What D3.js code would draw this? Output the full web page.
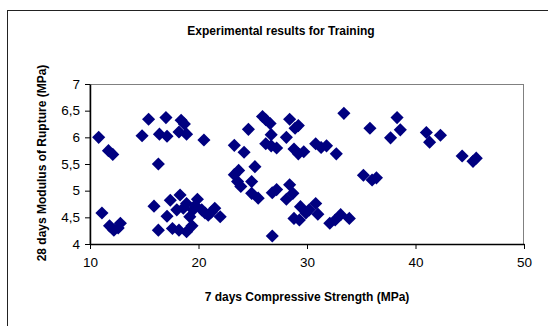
<!DOCTYPE html>
<html>
<head>
<meta charset="utf-8">
<script src="https://cdn.jsdelivr.net/npm/d3@7"></script>
<style>
  body { margin: 0; background: #fff; }
  svg { display: block; }
</style>
</head>
<body>
<div id="chart"></div>
<script>
// 7 days compressive strength (MPa)
const strength7 = [
  10.8, 11.7, 12.1, 14.8, 15.4, 17.0, 16.4, 17.1, 18.4, 18.7, 18.2, 18.9, 20.5, 16.3,
  11.1, 11.8, 12.2, 12.8, 12.6,
  15.9, 16.3, 17.4, 18.3, 17.1, 17.6, 18.2, 18.9, 19.4, 18.0, 18.6, 18.9, 19.9, 19.5,
  20.3, 20.9, 21.5, 22.0, 19.2, 19.7, 20.6, 21.2,
  24.6, 25.9, 26.2, 26.6, 26.7, 26.2, 26.7, 27.2, 28.1, 28.4, 28.9, 29.2, 28.8, 29.2,
  29.7, 30.8, 31.3, 31.8, 32.7, 33.4, 35.8, 23.3, 24.2,
  23.3, 23.7, 23.6, 23.9, 25.2, 24.9, 24.9, 25.5, 26.8, 27.2, 28.4, 28.7, 28.1, 26.8,
  28.8, 29.4, 29.3, 29.9, 30.2, 30.8, 31.0, 32.1, 32.6, 33.1, 33.9, 35.2, 36.0, 36.4,
  38.3, 38.6, 37.7, 41.0, 41.3, 42.3, 44.3, 45.3, 45.6
];
// 28 days modulus of rupture (MPa)
const rupture28 = [
  6.00, 5.75, 5.68, 6.03, 6.34, 6.37, 6.06, 6.02, 6.32, 6.25, 6.10, 6.06, 5.95, 5.50,
  4.58, 4.34, 4.26, 4.39, 4.30,
  4.71, 4.26, 4.82, 4.92, 4.52, 4.29, 4.26, 4.23, 4.34, 4.64, 4.67, 4.76, 4.84, 4.64,
  4.64, 4.54, 4.67, 4.51, 4.51, 4.72, 4.58, 4.60,
  6.15, 6.39, 6.33, 6.26, 6.05, 5.88, 5.84, 5.80, 6.00, 6.34, 6.17, 6.22, 5.78, 5.69,
  5.73, 5.88, 5.81, 5.84, 5.69, 6.45, 6.17, 5.85, 5.72,
  5.30, 5.38, 5.17, 5.08, 5.45, 5.17, 4.95, 4.86, 4.96, 5.02, 5.11, 4.95, 4.84, 4.15,
  4.48, 4.70, 4.45, 4.58, 4.64, 4.76, 4.56, 4.39, 4.45, 4.55, 4.48, 5.29, 5.20, 5.24,
  6.37, 6.14, 5.99, 6.09, 5.91, 6.04, 5.65, 5.55, 5.61
];
const xTicks = [10, 20, 30, 40, 50];
const yTicks = [4, 4.5, 5, 5.5, 6, 6.5, 7];

const width = 548, height = 326;
const plot = { left: 90, right: 524, top: 84, bottom: 244 };
const navy = "#000080";
const font = "Liberation Sans, Arial, sans-serif";

const svg = d3.select("#chart").append("svg")
  .attr("width", width)
  .attr("height", height);

// outer chart frame
svg.append("rect")
  .attr("x", 7.5).attr("y", 10.5)
  .attr("width", width + 10).attr("height", height + 10)
  .attr("fill", "none").attr("stroke", "#222").attr("stroke-width", 1);

const x = d3.scaleLinear().domain([10, 50]).range([plot.left, plot.right]);
const y = d3.scaleLinear().domain([4, 7]).range([plot.bottom, plot.top]);

// plot area border
svg.append("rect")
  .attr("x", plot.left).attr("y", plot.top + 0.5)
  .attr("width", plot.right - plot.left - 0.5).attr("height", plot.bottom - plot.top)
  .attr("fill", "none").attr("stroke", "#808080").attr("stroke-width", 1);

const decimalComma = (d) => String(d).replace(".", ",");

svg.append("g")
  .attr("transform", `translate(0, ${plot.bottom})`)
  .call(d3.axisBottom(x).tickValues(xTicks).tickSize(5).tickPadding(8).tickSizeOuter(0))
  .call((g) => g.selectAll(".domain").attr("stroke", "#000").attr("stroke-width", 1.5))
  .call((g) => g.selectAll("line").attr("stroke", "#000"))
  .call((g) => g.selectAll("text").attr("fill", "#000").attr("font-size", "13.5").attr("font-family", font));

svg.append("g")
  .attr("transform", `translate(${plot.left}, 0)`)
  .call(d3.axisLeft(y).tickValues(yTicks).tickFormat(decimalComma).tickSize(5).tickPadding(5).tickSizeOuter(0))
  .call((g) => g.selectAll(".domain").attr("stroke", "#000").attr("stroke-width", 1.5))
  .call((g) => g.selectAll("line").attr("stroke", "#000"))
  .call((g) => g.selectAll("text").attr("fill", "#000").attr("font-size", "13.5").attr("font-family", font));

// points as square diamonds
const diamond = d3.symbol().type(d3.symbolSquare).size(86);
svg.append("g")
  .selectAll("path")
  .data(strength7.map((s, i) => [s, rupture28[i]]))
  .enter()
  .append("path")
  .attr("d", diamond)
  .attr("transform", (d) => `translate(${x(d[0])}, ${y(d[1])}) rotate(45)`)
  .attr("fill", navy);

// titles
svg.append("text")
  .attr("x", 281).attr("y", 35)
  .attr("text-anchor", "middle")
  .attr("font-family", font).attr("font-size", "12").attr("font-weight", "bold")
  .text("Experimental results for Training");

svg.append("text")
  .attr("x", (plot.left + plot.right) / 2).attr("y", 301)
  .attr("text-anchor", "middle")
  .attr("font-family", font).attr("font-size", "12").attr("font-weight", "bold")
  .text("7 days Compressive Strength (MPa)");

svg.append("text")
  .attr("transform", `translate(46, 163) rotate(-90)`)
  .attr("text-anchor", "middle")
  .attr("font-family", font).attr("font-size", "12").attr("font-weight", "bold")
  .text("28 days Modulus of Rupture (MPa)");
</script>
</body>
</html>
